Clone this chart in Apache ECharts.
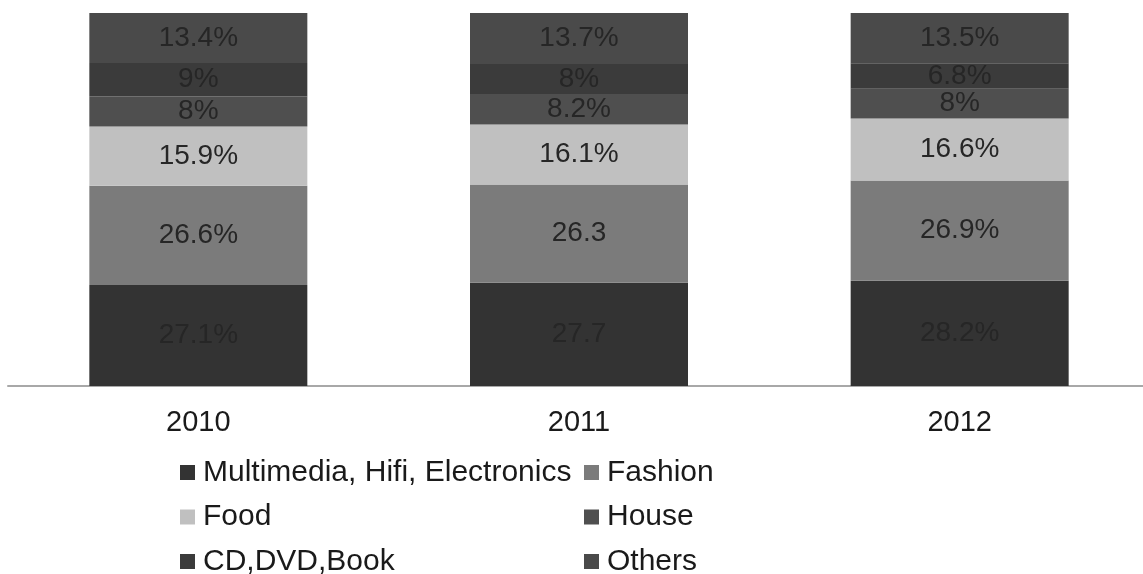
<!DOCTYPE html>
<html>
<head>
<meta charset="utf-8">
<script src="https://cdn.jsdelivr.net/npm/echarts@6/dist/echarts.min.js"></script>
<style>
  html, body { margin: 0; padding: 0; background: #ffffff; overflow: hidden; }
  #chart { width: 1150px; height: 574px; }
</style>
</head>
<body>
<div id="chart"></div>
<script>
// Sales share by product category, per year (percent of total)
const years = ['2010', '2011', '2012'];
const seriesNames = ['Multimedia, Hifi, Electronics', 'Fashion', 'Food', 'House', 'CD,DVD,Book', 'Others'];
const multimedia = [27.1, 27.7, 28.2];
const fashion = [26.6, 26.3, 26.9];
const food = [15.9, 16.1, 16.6];
const house = [8, 8.2, 8];
const cdDvdBook = [9, 8, 6.8];
const others = [13.4, 13.7, 13.5];
// labels printed without a percent sign
const plainLabels = { 'Multimedia, Hifi, Electronics': [false, true, false], 'Fashion': [false, true, false] };

const values = [multimedia, fashion, food, house, cdDvdBook, others];
const colors = ['#333333', '#7b7b7b', '#c0c0c0', '#4f4f4f', '#3b3b3b', '#4a4a4a'];
const FONT = '"Liberation Sans", Arial, sans-serif';

const series = seriesNames.map((name, i) => ({
  name: name,
  type: 'bar',
  stack: 'total',
  barWidth: 218,
  data: values[i],
  itemStyle: { color: colors[i] },
  label: {
    show: true,
    position: 'inside',
    fontFamily: FONT,
    fontSize: 28,
    color: '#262626',
    formatter: p => {
      const plain = plainLabels[name] && plainLabels[name][p.dataIndex];
      return p.value + (plain ? '' : '%');
    }
  },
  emphasis: { disabled: true }
}));

function legendColumn(names, left) {
  return {
    data: names,
    orient: 'vertical',
    left: left,
    top: 457.5,
    height: 140,
    padding: 0,
    itemWidth: 15,
    itemHeight: 15,
    itemGap: 14.5,
    icon: 'rect',
    selectedMode: false,
    textStyle: {
      fontFamily: FONT,
      fontSize: 30,
      lineHeight: 29,
      color: '#1a1a1a',
      padding: [0, 0, 0, 3]
    }
  };
}

const chart = echarts.init(document.getElementById('chart'), null, { renderer: 'canvas' });
chart.setOption({
  animation: false,
  backgroundColor: '#ffffff',
  grid: { left: 8, right: 0, top: 13, bottom: 188, containLabel: false },
  xAxis: {
    type: 'category',
    data: years,
    axisLine: { show: true, lineStyle: { color: '#a8a8a8', width: 2 } },
    axisTick: { show: false },
    axisLabel: { margin: 22, fontFamily: FONT, fontSize: 29, color: '#1a1a1a' }
  },
  yAxis: {
    type: 'value',
    min: 0,
    max: 100,
    show: false,
    splitLine: { show: false }
  },
  legend: [
    legendColumn([seriesNames[0], seriesNames[2], seriesNames[4]], 180),
    legendColumn([seriesNames[1], seriesNames[3], seriesNames[5]], 584)
  ],
  series: series
});
</script>
</body>
</html>
